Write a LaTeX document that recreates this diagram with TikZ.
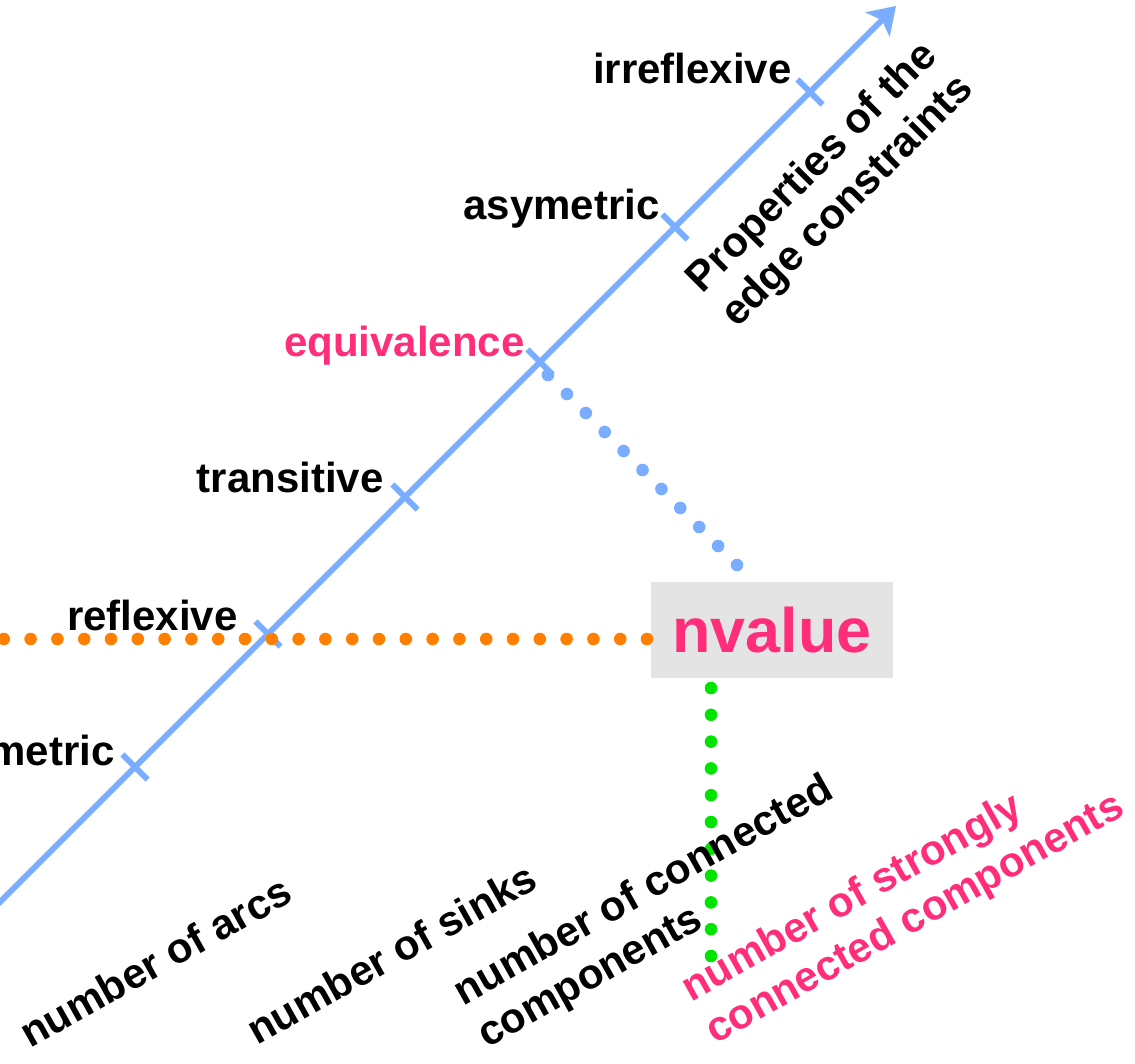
\documentclass[tikz,border=0pt]{standalone}
\usepackage{fontspec}
\setmainfont{Liberation Sans}
\usetikzlibrary{arrows.meta}

\definecolor{axisblue}{RGB}{122,172,255}
\definecolor{hotpink}{RGB}{255,45,122}
\definecolor{dotorange}{RGB}{255,128,0}
\definecolor{dotgreen}{RGB}{0,228,0}
\definecolor{boxgray}{RGB}{228,228,228}

\begin{document}
\begin{tikzpicture}[x=0.5pt,y=-0.5pt,
  axisline/.style={draw=axisblue,line width=2.9pt,
    -{Stealth[length=13pt,width=17pt,inset=3pt]}},
  tickmark/.style={draw=axisblue,line width=2.9pt},
  txt/.style={font=\fontsize{21}{24.5}\selectfont\bfseries,inner sep=0pt},
  prop/.style={txt,anchor=base east},
  measure/.style={txt,anchor=base west,rotate=29.3,align=left},
  dotline/.style={line width=6.3pt,line cap=round,dash pattern=on 0pt off 13.4pt},
  pink/.style={text=hotpink}
]
\useasboundingbox (0,0) rectangle (1135,1064);

% main axis with the property ticks
\coordinate (axstart) at (-30,932);
\coordinate (axend) at (896,6);
\draw[axisline] (axstart) -- (axend);

\foreach \n/\px in {t1/135,t2/268,t3/405,t4/540,t5/675,t6/810}{
  \coordinate (\n) at (\px,902-\px);
  \draw[tickmark] ([shift={(-12.6,-12.6)}]\n) -- ([shift={(12.6,12.6)}]\n);
}

% property labels
\node[prop] (lsym)   at (115,765) {symmetric};
\node[prop] (lrefl)  at (238,630) {reflexive};
\node[prop] (ltrans) at (384,492) {transitive};
\node[prop,pink] (lequiv) at (525,357) {equivalence};
\node[prop] (lasym)  at (660,220) {asymetric};
\node[prop] (lirr)   at (792,84)  {irreflexive};

% axis title (anchored on the baseline of its last line)
\node[txt,anchor=base west,rotate=45,align=left] (axtitle) at (737,329)
  {Properties of the\\edge constraints};

% constraint box
\node[fill=boxgray,inner sep=0pt,minimum width=121pt,minimum height=48pt,
  font=\fontsize{31.4}{36}\selectfont\bfseries,text=hotpink] (nv) at (772,630) {nvalue};

% dotted links
\coordinate (ob) at (647,639);
\coordinate (oe) at (2,639);
\draw[dotline,dotorange] (ob) -- (oe);

\coordinate (gb) at (711,688);
\coordinate (ge) at (711,957);
\draw[dotline,dotgreen] (gb) -- (ge);

\coordinate (bb) at (548,375);
\coordinate (be) at (738,566);
\draw[dotline,axisblue] (bb) -- (be);

% graph properties (multi-line ones anchored on their last line)
\node[measure] (arcs)  at (30,1049)  {number of arcs};
\node[measure] (sinks) at (257,1046) {number of sinks};
\node[measure] (ncc)   at (487,1049) {number of connected\\components};
\node[measure,pink] (nscc) at (715,1045) {number of strongly\\connected components};
\end{tikzpicture}
\end{document}
